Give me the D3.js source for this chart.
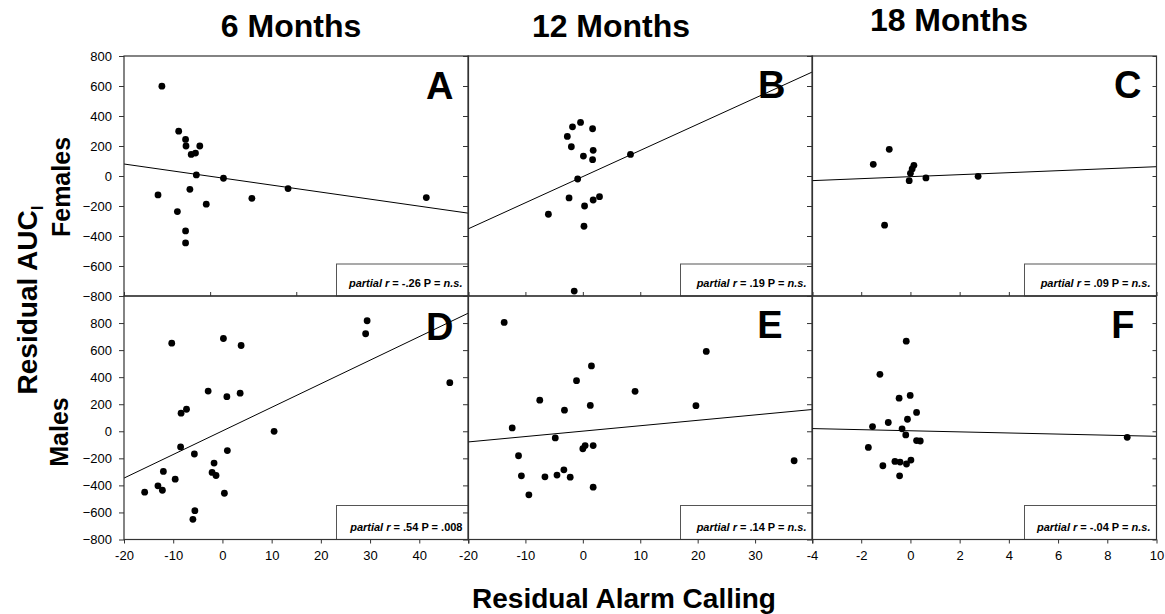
<html>
<head>
<meta charset="utf-8">
<script src="https://cdn.jsdelivr.net/npm/d3@7/dist/d3.min.js"></script>
<style>
body { margin: 0; background: #fff; }
svg { font-family: "Liberation Sans", Arial, sans-serif; }
.tick text { font-size: 13px; fill: #000; }
.domain { display: none; }
.tick line { stroke: #333; }
</style>
</head>
<body>
<svg width="1165" height="614"></svg>
<script>
// ---- data ----
var columnTitles = ["6 Months", "12 Months", "18 Months"];
var rowTitles = ["Females", "Males"];
var panelLetters = ["A", "B", "C", "D", "E", "F"];

// x domains and tick steps per panel (top A has its own scale in the original)
var xDomains = [[-20, 60], [-20, 40], [-4, 10], [-20, 50], [-20, 40], [-4, 10]];
var xSteps = [20, 10, 2, 10, 10, 2];
var yDomains = [[-800, 800], [-800, 800], [-800, 800], [-800, 1000], [-800, 1000], [-800, 1000]];
var yTicks = [-800, -600, -400, -200, 0, 200, 400, 600, 800];

var ptsA = [[-11.2, 599], [-12.1, -126], [-7.3, 299], [-5.7, 244], [-5.6, 200], [-2.4, 200],
  [-4.4, 144], [-3.4, 153], [-3.2, 7], [-4.7, -89], [-0.9, -188], [3.1, -15], [-7.6, -237],
  [-5.7, -366], [-5.7, -446], [9.7, -149], [18.1, -84], [50.2, -144]];
var ptsB = [[-0.4, 357], [-1.8, 328], [1.7, 315], [-2.7, 264], [-2.0, 195], [1.8, 171],
  [0.1, 133], [1.7, 109], [8.3, 144], [-0.9, -20], [-2.4, -146], [1.8, -160], [2.9, -138],
  [0.3, -200], [-6.0, -255], [0.2, -335], [-1.5, -767]];
var ptsC = [[-1.51, 78], [-0.86, 178], [0.14, 71], [0.07, 47], [0.0, 18], [-0.05, -31],
  [0.63, -13], [2.75, -2], [-1.05, -328]];
var ptsD = [[-10.3, 651], [0.2, 686], [3.8, 634], [29.4, 817], [29.1, 721], [46.2, 359],
  [-2.9, 297], [0.9, 256], [3.6, 282], [-8.4, 134], [-7.3, 163], [10.5, 0], [-8.5, -116],
  [-5.7, -168], [1.0, -143], [-1.7, -235], [-12.0, -297], [-2.1, -304], [-1.3, -327],
  [-9.6, -354], [-13.1, -403], [-12.2, -436], [-15.8, -450], [0.4, -458], [-5.6, -587], [-6.0, -651]];
var ptsE = [[-13.7, 805], [21.5, 590], [1.5, 483], [-1.1, 374], [9.1, 295], [-7.5, 230],
  [1.3, 191], [19.7, 189], [-3.2, 156], [-12.3, 25], [-4.8, -49], [0.4, -106], [0.0, -129],
  [1.8, -106], [-11.2, -181], [36.8, -218], [-10.7, -329], [-6.6, -337], [-4.5, -324],
  [-3.3, -285], [-2.2, -339], [1.8, -413], [-9.4, -470]];
var ptsF = [[-0.17, 666], [-1.24, 421], [-0.46, 245], [-0.01, 265], [0.25, 139], [-0.12, 89],
  [-0.90, 65], [-1.54, 35], [-0.34, 18], [-0.19, -27], [0.25, -69], [0.40, -72], [-1.71, -119],
  [8.81, -45], [-0.63, -223], [-0.42, -228], [0.02, -213], [-0.16, -242], [-1.12, -255], [-0.44, -329]];
var points = [ptsA, ptsB, ptsC, ptsD, ptsE, ptsF];

// fitted lines: slope, intercept
var slopes = [-4.1, 17.45, 6.64, 17.43, 4.0, -4.07];
var intercepts = [-2, -4, -4.4, 2.6, 1, 3.7];

var partialR = ["-.26", ".19", ".09", ".54", ".14", "-.04"];
var pValues = ["n.s.", "n.s.", "n.s.", ".008", "n.s.", "n.s."];

// ---- layout ----
var svg = d3.select("svg");
var colX = [124, 468, 812], colW = 344.5;
var rowY = [56, 296], rowH = [240, 243.5];
var letterPos = [[-15, 43], [-27, 42], [-15, 42], [-15, 44], [-30, 42], [-22, 42]];
var boxW = 132, boxH = [32, 34];

panelLetters.forEach(function(letter, i) {
  var r = Math.floor(i / 3), c = i % 3;
  var x0 = colX[c], y0 = rowY[r], w = colW, h = rowH[r];
  var x = d3.scaleLinear().domain(xDomains[i]).range([0, w]);
  var y = d3.scaleLinear().domain(yDomains[i]).range([h, 0]);
  var g = svg.append("g").attr("transform", "translate(" + x0 + "," + y0 + ")");

  var xt = d3.range(xDomains[i][0], xDomains[i][1] + 0.001, xSteps[i]);

  // left axis
  var ya = d3.axisLeft(y).tickValues(yTicks).tickSize(5).tickPadding(7);
  if (c > 0) ya.tickFormat("");
  g.append("g").call(ya);

  // right axis ticks on last column
  if (c == 2) {
    g.append("g").attr("transform", "translate(" + w + ",0)")
      .call(d3.axisLeft(y).tickValues(yTicks).tickSize(4).tickFormat(""));
  }

  // bottom axis
  if (r == 0) {
    g.append("g").attr("transform", "translate(0," + h + ")")
      .call(d3.axisTop(x).tickValues(xt).tickSize(4).tickFormat(""));
  } else {
    var last = xDomains[i][1];
    g.append("g").attr("transform", "translate(0," + h + ")")
      .call(d3.axisBottom(x).tickValues(xt).tickSize(4).tickPadding(7)
        .tickFormat(function(d) { return (c < 2 && d == last) ? "" : d; }));
  }

  // fitted line
  var xd = xDomains[i];
  g.append("line")
    .attr("x1", x(xd[0])).attr("y1", y(intercepts[i] + slopes[i] * xd[0]))
    .attr("x2", x(xd[1])).attr("y2", y(intercepts[i] + slopes[i] * xd[1]))
    .attr("stroke", "#000").attr("stroke-width", 1);

  // points
  g.selectAll("circle").data(points[i]).enter().append("circle")
    .attr("cx", function(d) { return x(d[0]); })
    .attr("cy", function(d) { return y(d[1]); })
    .attr("r", 3.4).attr("fill", "#000");

  // stats box
  var bh = boxH[r];
  g.append("rect").attr("x", w - boxW).attr("y", h - bh).attr("width", boxW).attr("height", bh)
    .attr("fill", "#fff").attr("stroke", "#555").attr("stroke-width", 1);
  var t = g.append("text").attr("x", w - 6).attr("y", h - 9).attr("text-anchor", "end")
    .attr("font-size", 11).attr("font-weight", "bold");
  t.append("tspan").attr("font-style", "italic").text("partial r");
  t.append("tspan").text(" = " + partialR[i] + " P = ");
  t.append("tspan").attr("font-style", pValues[i] == "n.s." ? "italic" : "normal").text(pValues[i]);

  // frame
  g.append("rect").attr("width", w).attr("height", h)
    .attr("fill", "none").attr("stroke", "#333").attr("stroke-width", 1.2);

  // panel letter
  g.append("text").attr("x", w + letterPos[i][0]).attr("y", letterPos[i][1])
    .attr("text-anchor", "end").attr("font-size", 38).attr("font-weight", "bold").text(letter);
});

// titles
var titleX = [291, 611, 949], titleY = [37, 37, 31];
columnTitles.forEach(function(s, i) {
  svg.append("text").attr("x", titleX[i]).attr("y", titleY[i]).attr("text-anchor", "middle")
    .attr("font-size", 32).attr("font-weight", "bold").text(s);
});

var rowLabY = [187, 432], rowLabX = [70, 68];
rowTitles.forEach(function(s, i) {
  svg.append("text").attr("transform", "translate(" + rowLabX[i] + "," + rowLabY[i] + ") rotate(-90)")
    .attr("text-anchor", "middle").attr("font-size", 25).attr("font-weight", "bold").text(s);
});

var yl = svg.append("text").attr("transform", "translate(37,300) rotate(-90)")
  .attr("text-anchor", "middle").attr("font-size", 28).attr("font-weight", "bold");
yl.append("tspan").text("Residual AUC");
yl.append("tspan").attr("font-size", 17).attr("dy", 6).text("I");

svg.append("text").attr("x", 624).attr("y", 608).attr("text-anchor", "middle")
  .attr("font-size", 28).attr("font-weight", "bold").text("Residual Alarm Calling");
</script>
</body>
</html>
